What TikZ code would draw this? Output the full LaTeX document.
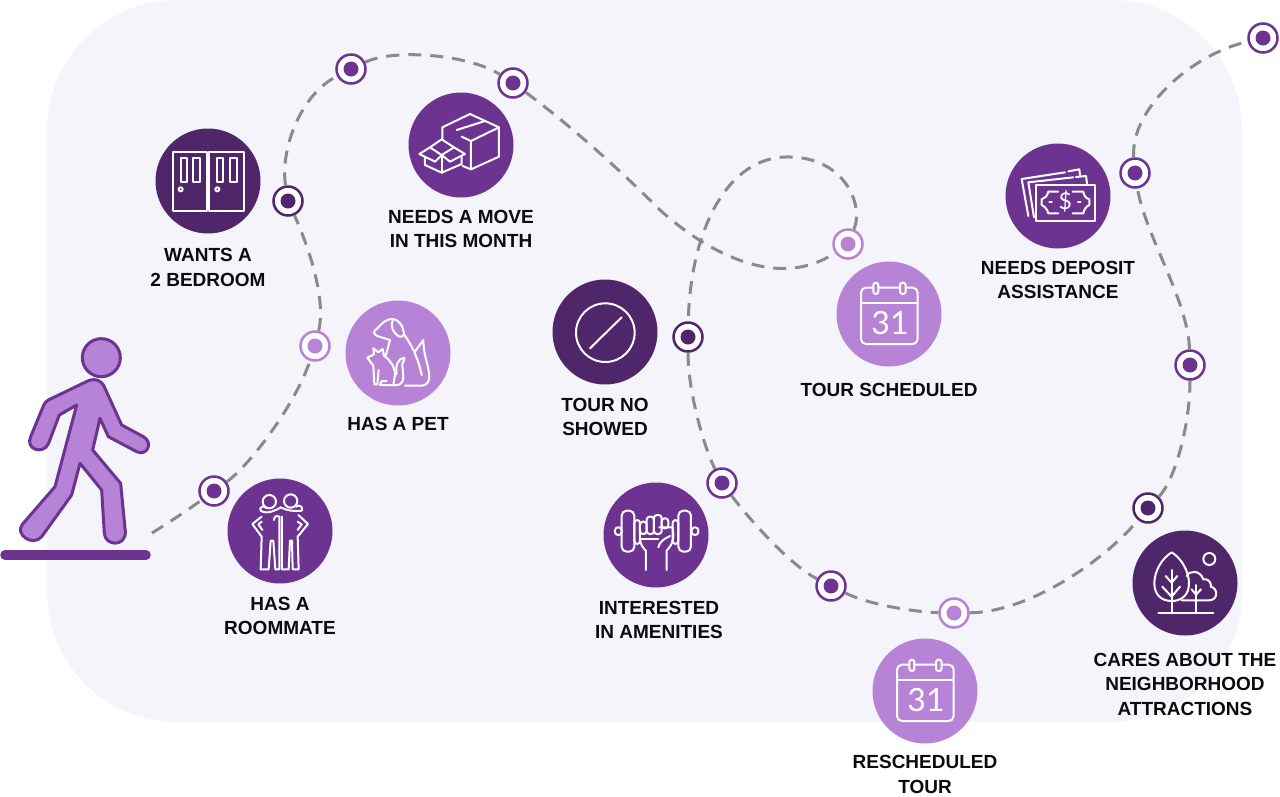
\documentclass[tikz,border=0pt]{standalone}
\usepackage{fontspec}
\setmainfont{Liberation Sans}
\newfontfamily\iconfont{Lato}
\definecolor{bgtint}{HTML}{F5F4FA}
\definecolor{pdark}{HTML}{4F2669}
\definecolor{pmid}{HTML}{6C3391}
\definecolor{plight}{HTML}{B683D6}
\definecolor{routegray}{HTML}{8A8A8A}
\definecolor{inkblack}{HTML}{0C0C0C}
\tikzset{
  route/.style={draw=routegray,line width=3pt,dash pattern=on 13pt off 9pt},
  bullet/.style={circle,draw=#1,fill=white,line width=2.5pt,minimum size=29pt,inner sep=0pt},
  core/.style={circle,fill=#1,minimum size=15pt,inner sep=0pt},
  bigdisc/.style={circle,fill=#1,minimum size=105pt,inner sep=0pt},
  label/.style={align=center,text=inkblack,font=\fontsize{19}{24.5}\selectfont\bfseries,inner sep=0pt},
  icon/.style={draw=white,line width=2pt,line join=round,line cap=round},
  calicon/.pic={
    \begin{scope}[scale=0.33333]
      \draw[icon,rounded corners=5pt] (-84,-79) rectangle (86,90);
      \draw[icon] (-84,-34) -- (86,-34);
      \draw[icon,fill=plight,rounded corners=2.5pt] (-47,-94) rectangle (-32,-60);
      \draw[icon,fill=plight,rounded corners=2.5pt] (33,-94) rectangle (50,-60);
      \node[text=white,font=\iconfont\fontsize{32}{32}\selectfont,inner sep=0pt] (-num) at (3,28) {31};
    \end{scope}
  }
}
\begin{document}
\begin{tikzpicture}[x=1pt,y=-1pt]
\useasboundingbox (0,0) rectangle (1280,796);
\fill[bgtint,rounded corners=130pt] (47,0) rectangle (1242,722);

% walker
\draw[pmid,line width=9.5pt,line cap=round] (5,555) -- (146,555);
\begin{scope}[scale=0.33333,shift={(0,960)}]
  \draw[draw=pmid,fill=plight,line width=3pt,line join=round]
    (304,113) circle (57);
  \draw[draw=pmid,fill=plight,line width=3pt,line join=round]
    (255,187) .. controls (280,172) and (305,178) .. (315,205)
    -- (365,315) -- (430,350) .. controls (462,368) and (440,410) .. (410,395)
    -- (325,350) -- (300,295) -- (278,390) -- (362,490) -- (376,635)
    .. controls (378,680) and (316,680) .. (313,640)
    -- (305,510) -- (240,430) -- (215,525) -- (125,650)
    .. controls (98,682) and (42,642) .. (68,612)
    -- (165,500) -- (230,255) -- (178,285) -- (145,372)
    .. controls (128,405) and (75,388) .. (92,350)
    -- (130,258) .. controls (133,250) and (137,245) .. (145,240) -- cycle;
\end{scope}

% route
\coordinate (start) at (152,533);
\node[bullet=pmid] (b1) at (214,491) {};
\node[bullet=plight] (b2) at (315,346) {};
\node[bullet=pdark] (b3) at (288,201) {};
\node[bullet=pmid] (b4) at (351,69) {};
\node[bullet=pmid] (b5) at (513,83) {};
\node[bullet=plight] (b6) at (848,244) {};
\node[bullet=pdark] (b7) at (688,337) {};
\node[bullet=pmid] (b8) at (722,483) {};
\node[bullet=pmid] (b9) at (831,586) {};
\node[bullet=plight] (b10) at (954,613) {};
\node[bullet=pdark] (b11) at (1148,508) {};
\node[bullet=pmid] (b12) at (1190,365) {};
\node[bullet=pmid] (b13) at (1135,173) {};
\node[bullet=pmid] (b14) at (1263,38) {};
\draw[route] (start) .. controls (168,523) and (185,512) .. (b1);
\draw[route] (b1) .. controls (250,465) and (295,405) .. (b2);
\draw[route] (b2) .. controls (326,300) and (310,250) .. (b3);
\draw[route] (b3) .. controls (280,150) and (300,95) .. (b4);
\draw[route] (b4) .. controls (395,48) and (470,55) .. (b5);
\draw[route] (b5) .. controls (570,125) and (620,170) .. (660,210) .. controls (710,255) and (780,290) .. (b6);
\draw[route] (b6) .. controls (864,205) and (845,158) .. (790,157) .. controls (725,155) and (690,235) .. (b7);
\draw[route] (b7) .. controls (688,390) and (703,445) .. (b8);
\draw[route] (b8) .. controls (750,520) and (790,565) .. (b9);
\draw[route] (b9) .. controls (870,605) and (915,612) .. (b10);
\draw[route] (b10) .. controls (1030,612) and (1105,560) .. (b11);
\draw[route] (b11) .. controls (1175,480) and (1190,425) .. (b12);
\draw[route] (b12) .. controls (1188,300) and (1145,235) .. (b13);
\draw[route] (b13) .. controls (1130,110) and (1190,55) .. (b14);
\node[core=pmid] (c1) at (b1) {};
\node[core=plight] (c2) at (b2) {};
\node[core=pdark] (c3) at (b3) {};
\node[core=pmid] (c4) at (b4) {};
\node[core=pmid] (c5) at (b5) {};
\node[core=plight] (c6) at (b6) {};
\node[core=pdark] (c7) at (b7) {};
\node[core=pmid] (c8) at (b8) {};
\node[core=pmid] (c9) at (b9) {};
\node[core=plight] (c10) at (b10) {};
\node[core=pdark] (c11) at (b11) {};
\node[core=pmid] (c12) at (b12) {};
\node[core=pmid] (c13) at (b13) {};
\node[core=pmid] (c14) at (b14) {};

% discs
\node[bigdisc=pmid] (mate) at (280,531) {};
\node[bigdisc=plight] (pet) at (398,353) {};
\node[bigdisc=pdark] (door) at (208,181) {};
\node[bigdisc=pmid] (box) at (461,145) {};
\node[bigdisc=pdark] (noshow) at (605,332) {};
\node[bigdisc=plight] (cala) at (889,314) {};
\node[bigdisc=pmid] (gym) at (656,535) {};
\node[bigdisc=plight] (calb) at (925,691) {};
\node[bigdisc=pdark] (trees) at (1185,583) {};
\node[bigdisc=pmid] (money) at (1058,196) {};

% roommates
\begin{scope}[scale=0.33333,shift={(0,960)}]
  \draw[icon] (808,545) circle (20);
  \draw[icon] (872,543) circle (20);
  \draw[icon] (782,572) .. controls (800,585) and (830,570) .. (842,562) .. controls (860,572) and (885,575) .. (905,572);
  \draw[icon] (782,572) .. controls (775,560) and (795,555) .. (800,565);
  \draw[icon] (905,572) .. controls (912,560) and (895,552) .. (888,560);
  \draw[icon] (785,590) -- (757,612) -- (785,650) -- (782,748) -- (806,748) -- (812,662) -- (820,662) -- (826,748) -- (838,748) -- (838,590);
  \draw[icon] (838,590) .. controls (830,585) and (822,590) .. (822,600);
  \draw[icon] (785,605) -- (775,613) -- (787,630);
  \draw[icon] (846,590) -- (846,748) -- (866,748) -- (870,662) -- (876,662) -- (878,748) -- (896,748) -- (893,650) -- (924,612) -- (895,585);
  \draw[icon] (893,605) -- (905,613) -- (893,630);
\end{scope}

% doors
\begin{scope}[scale=0.33333,shift={(420,120)}]
  \draw[icon] (100,337) rectangle (200,513);
  \draw[icon] (208,337) rectangle (312,513);
  \draw[icon] (122,355) rectangle (140,425);
  \draw[icon] (160,355) rectangle (180,425);
  \draw[icon] (230,355) rectangle (250,425);
  \draw[icon] (270,355) rectangle (290,425);
  \draw[icon] (122,448) circle (6);
  \draw[icon] (232,448) circle (6);
\end{scope}

% boxes
\begin{scope}[scale=0.33333,shift={(420,120)}]
  \draw[icon] (907,300) -- (907,262) -- (990,222) -- (1077,262) -- (993,303) -- (965,290);
  \draw[icon] (993,303) -- (993,388) -- (1077,350) -- (1077,262);
  \draw[icon] (993,388) -- (968,378);
  \draw[icon] (950,270) -- (1035,243);
  \draw[icon] (855,352) -- (855,375) -- (905,398) -- (965,372) -- (965,352);
  \draw[icon] (905,345) -- (905,398);
  \draw[icon] (870,322) -- (838,342) -- (885,365) -- (905,345) -- (930,365) -- (975,342) -- (942,322) -- (905,298) -- cycle;
  \draw[icon] (870,322) -- (905,345) -- (942,322);
\end{scope}

% pet
\begin{scope}[scale=0.33333,shift={(1020,885)}]
  \draw[icon] (138,180) -- (150,135) -- (118,125) .. controls (98,120) and (98,108) .. (112,100) .. controls (125,85) and (140,72) .. (155,72) .. controls (178,72) and (190,95) .. (192,118) .. controls (215,150) and (235,190) .. (245,240);
  \draw[icon] (158,76) .. controls (150,95) and (160,115) .. (178,125) .. controls (185,128) and (190,122) .. (192,118);
  \draw[icon] (225,170) -- (250,135) .. controls (250,180) and (265,205) .. (268,245) .. controls (268,262) and (258,272) .. (245,272) -- (195,272);
  \draw[icon] (100,160) -- (115,172) -- (128,162) -- (132,182) .. controls (150,195) and (165,215) .. (165,240) -- (160,270) -- (120,270) -- (125,258) -- (140,258);
  \draw[icon] (100,160) -- (102,178) -- (82,188) -- (100,212) -- (103,268) -- (112,268) -- (116,225);
  \draw[icon] (170,238) .. controls (165,210) and (175,190) .. (193,188) -- (192,197) .. controls (180,205) and (195,240) .. (188,258) .. controls (183,270) and (170,272) .. (160,270);
\end{scope}

% no-show
\begin{scope}[scale=0.33333,shift={(1620,420)}]
  \draw[icon] (196,578) circle (88);
  \draw[icon] (150,625) -- (245,532);
\end{scope}

% calendars
\pic (ca) at (cala) {calicon};
\pic (cb) at (calb) {calicon};

% dumbbell
\begin{scope}[scale=0.33333,shift={(1770,1410)}]
  \draw[icon,rounded corners=3pt] (75,172) rectangle (95,195);
  \draw[icon,rounded corners=5pt] (95,122) rectangle (133,245);
  \draw[icon,rounded corners=3pt] (133,150) rectangle (150,222);
  \draw[icon,rounded corners=3pt] (305,172) rectangle (325,195);
  \draw[icon,rounded corners=5pt] (265,122) rectangle (303,245);
  \draw[icon,rounded corners=3pt] (248,150) rectangle (265,222);
  \draw[icon,rounded corners=3pt] (150,155) rectangle (170,192);
  \draw[icon,rounded corners=3pt] (170,140) rectangle (192,192);
  \draw[icon,rounded corners=3pt] (192,135) rectangle (215,192);
  \draw[icon,rounded corners=3pt] (215,145) rectangle (235,175);
  \draw[icon] (150,208) .. controls (152,225) and (160,235) .. (168,242) -- (168,300);
  \draw[icon] (230,300) -- (230,242) .. controls (240,230) and (250,220) .. (250,195) -- (248,172) -- (208,172);
  \draw[icon] (205,232) .. controls (208,215) and (225,205) .. (240,198);
  \draw[icon] (150,208) -- (205,208);
\end{scope}

% trees
\begin{scope}[scale=0.33333,shift={(3360,1560)}]
  \draw[icon] (115,280) -- (280,280);
  \draw[icon] (155,97) .. controls (125,115) and (103,155) .. (103,190) .. controls (103,225) and (125,243) .. (155,243) .. controls (185,243) and (207,225) .. (207,190) .. controls (207,155) and (185,115) .. (155,97) -- cycle;
  \draw[icon] (155,150) -- (155,280);
  \draw[icon] (137,168) -- (155,188) -- (172,168);
  \draw[icon] (127,200) -- (155,230) -- (180,200);
  \draw[icon] (200,168) .. controls (210,150) and (240,150) .. (250,178) .. controls (270,175) and (275,195) .. (272,200) .. controls (295,205) and (295,240) .. (268,241) -- (185,241);
  \draw[icon] (228,195) -- (228,280);
  \draw[icon] (215,208) -- (228,224) -- (243,208);
  \draw[icon] (268,117) circle (18);
\end{scope}

% money
\begin{scope}[scale=0.33333,shift={(2970,390)}]
  \draw[icon] (137,165) rectangle (315,272);
  \draw[icon] (95,147) -- (115,258);
  \draw[icon] (95,147) -- (225,127);
  \draw[icon] (235,124) -- (268,118) -- (270,135);
  \draw[icon] (115,157) -- (132,262);
  \draw[icon] (115,157) -- (250,142);
  \draw[icon] (258,141) -- (288,138) -- (291,160);
  \draw[icon] (205,185) -- (175,185) .. controls (172,198) and (165,205) .. (155,208) -- (155,225) .. controls (165,230) and (172,238) .. (175,250) -- (205,250);
  \draw[icon] (248,185) -- (280,185) .. controls (282,198) and (288,205) .. (298,208) -- (298,225) .. controls (288,230) and (282,238) .. (280,250) -- (248,250);
  \draw[icon] (178,216) -- (186,216);
  \draw[icon] (264,216) -- (272,216);
  \node[text=white,font=\iconfont\fontsize{23}{23}\selectfont,inner sep=0pt] (dollar) at (226,215) {\$};
\end{scope}

% labels
\node[label] (lwants) at (208,267.5) {WANTS A\\2 BEDROOM};
\node[label] (lmate) at (280,616) {HAS A\\ROOMMATE};
\node[label] (lmove) at (461,229) {NEEDS A MOVE\\IN THIS MONTH};
\node[label] (lpet) at (398,424) {HAS A PET};
\node[label] (lno) at (605,417) {TOUR NO\\SHOWED};
\node[label] (lsched) at (889,390) {TOUR SCHEDULED};
\node[label] (lgym) at (659,620) {INTERESTED\\IN AMENITIES};
\node[label] (lres) at (925,774.5) {RESCHEDULED\\TOUR};
\node[label] (lcares) at (1185,684) {CARES ABOUT THE\\NEIGHBORHOOD\\ATTRACTIONS};
\node[label] (ldep) at (1058,280) {NEEDS DEPOSIT\\ASSISTANCE};
\end{tikzpicture}
\end{document}
